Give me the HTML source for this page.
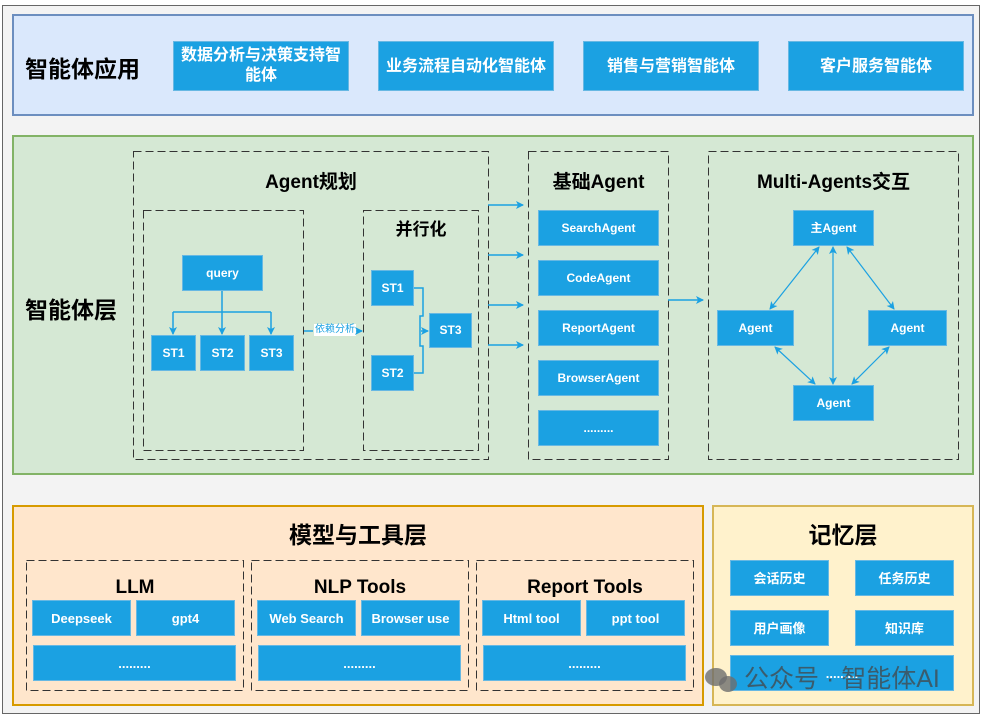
<!DOCTYPE html>
<html><head><meta charset="utf-8"><style>
*{margin:0;padding:0;box-sizing:border-box}
body{width:986px;height:719px;background:#fff;position:relative;overflow:hidden;font-family:"Liberation Sans","Noto Sans CJK SC",sans-serif}
div{position:absolute}
.b{background:#1ba1e2;border:1px solid #67b8e3;color:#fff;font-weight:bold;font-size:13px;display:flex;align-items:center;justify-content:center;text-align:center;line-height:17px}
.s{font-size:12px}
.t{font-weight:bold;color:#000;text-align:center;white-space:nowrap}
</style></head><body>
<div style="left:2px;top:5px;width:978px;height:709px;background:#f3f3f3;border:1px solid #666"></div>

<div style="left:12px;top:14px;width:962px;height:102px;background:#dae8fc;border:2px solid #6c8ebf"></div>
<div class="t" style="left:25px;top:50px;font-size:23px">智能体应用</div>
<div class="b" style="left:173px;top:41px;width:176px;height:50px;font-size:16px;line-height:20px">数据分析与决策支持智<br>能体</div>
<div class="b" style="left:378px;top:41px;width:176px;height:50px;font-size:16px">业务流程自动化智能体</div>
<div class="b" style="left:583px;top:41px;width:176px;height:50px;font-size:16px">销售与营销智能体</div>
<div class="b" style="left:788px;top:41px;width:176px;height:50px;font-size:16px">客户服务智能体</div>

<div style="left:12px;top:135px;width:962px;height:340px;background:#d5e8d4;border:2px solid #82b366"></div>
<div class="t" style="left:25px;top:291px;font-size:23px">智能体层</div>

<div style="left:12px;top:505px;width:692px;height:201px;background:#ffe6cc;border:2px solid #d79b00"></div>
<div style="left:712px;top:505px;width:262px;height:201px;background:#fff2cc;border:2px solid #d6b656"></div>

<svg width="986" height="719" style="position:absolute;left:0;top:0">
<g fill="none" stroke="#333" stroke-width="1" stroke-dasharray="8 4">
<rect x="133.5" y="151.5" width="355" height="308"/>
<rect x="143.5" y="210.5" width="160" height="240"/>
<rect x="363.5" y="210.5" width="115" height="240"/>
<rect x="528.5" y="151.5" width="140" height="308"/>
<rect x="708.5" y="151.5" width="250" height="308"/>
<rect x="26.5" y="560.5" width="217" height="130"/>
<rect x="251.5" y="560.5" width="217" height="130"/>
<rect x="476.5" y="560.5" width="217" height="130"/>
</g>
</svg>

<div class="t" style="left:133px;top:167px;width:356px;font-size:19px">Agent规划</div>
<div class="b s" style="left:182px;top:255px;width:81px;height:36px">query</div>
<div class="b s" style="left:151px;top:335px;width:45px;height:36px">ST1</div>
<div class="b s" style="left:200px;top:335px;width:45px;height:36px">ST2</div>
<div class="b s" style="left:249px;top:335px;width:45px;height:36px">ST3</div>
<div class="t" style="left:363px;top:215px;width:116px;font-size:17px">并行化</div>
<div class="b s" style="left:371px;top:270px;width:43px;height:36px">ST1</div>
<div class="b s" style="left:371px;top:355px;width:43px;height:36px">ST2</div>
<div class="b s" style="left:429px;top:313px;width:43px;height:35px">ST3</div>
<div style="left:314px;top:324px;background:#fff;color:#1ba1e2;font-size:10px;line-height:12px;padding:0 1px">依赖分析</div>

<div class="t" style="left:528px;top:167px;width:141px;font-size:19px">基础Agent</div>
<div class="b s" style="left:538px;top:210px;width:121px;height:36px">SearchAgent</div>
<div class="b s" style="left:538px;top:260px;width:121px;height:36px">CodeAgent</div>
<div class="b s" style="left:538px;top:310px;width:121px;height:36px">ReportAgent</div>
<div class="b s" style="left:538px;top:360px;width:121px;height:36px">BrowserAgent</div>
<div class="b s" style="left:538px;top:410px;width:121px;height:36px">.........</div>

<div class="t" style="left:708px;top:167px;width:251px;font-size:19px">Multi-Agents交互</div>
<div class="b s" style="left:793px;top:210px;width:81px;height:36px">主Agent</div>
<div class="b s" style="left:717px;top:310px;width:77px;height:36px">Agent</div>
<div class="b s" style="left:868px;top:310px;width:79px;height:36px">Agent</div>
<div class="b s" style="left:793px;top:385px;width:81px;height:36px">Agent</div>

<div class="t" style="left:12px;top:516px;width:692px;font-size:23px">模型与工具层</div>
<div class="t" style="left:712px;top:516px;width:262px;font-size:23px">记忆层</div>

<div class="t" style="left:26px;top:577px;width:218px;font-size:19px">LLM</div>
<div class="b" style="left:32px;top:600px;width:99px;height:36px">Deepseek</div>
<div class="b" style="left:136px;top:600px;width:99px;height:36px">gpt4</div>
<div class="b" style="left:33px;top:645px;width:203px;height:36px">.........</div>

<div class="t" style="left:251px;top:577px;width:218px;font-size:19px">NLP Tools</div>
<div class="b" style="left:257px;top:600px;width:99px;height:36px">Web Search</div>
<div class="b" style="left:361px;top:600px;width:99px;height:36px">Browser use</div>
<div class="b" style="left:258px;top:645px;width:203px;height:36px">.........</div>

<div class="t" style="left:476px;top:577px;width:218px;font-size:19px">Report Tools</div>
<div class="b" style="left:482px;top:600px;width:99px;height:36px">Html tool</div>
<div class="b" style="left:586px;top:600px;width:99px;height:36px">ppt tool</div>
<div class="b" style="left:483px;top:645px;width:203px;height:36px">.........</div>

<div class="b" style="left:730px;top:560px;width:99px;height:36px">会话历史</div>
<div class="b" style="left:855px;top:560px;width:99px;height:36px">任务历史</div>
<div class="b" style="left:730px;top:610px;width:99px;height:36px">用户画像</div>
<div class="b" style="left:855px;top:610px;width:99px;height:36px">知识库</div>
<div class="b" style="left:730px;top:655px;width:224px;height:36px">.........</div>

<svg width="986" height="719" style="position:absolute;left:0;top:0">
<defs><marker id="a" markerWidth="8" markerHeight="8" refX="7" refY="4" orient="auto-start-reverse" markerUnits="userSpaceOnUse"><path d="M0,0 L8,4 L0,8 L2,4z" fill="#1ba1e2"/></marker></defs>
<g stroke="#1ba1e2" stroke-width="1.5" fill="none">
<path d="M222,291 V334" marker-end="url(#a)"/>
<path d="M173,312 H271"/>
<path d="M173,312 V334" marker-end="url(#a)"/><path d="M271,312 V334" marker-end="url(#a)"/>
<path d="M304,331 H313"/><path d="M356,331 H362" marker-end="url(#a)"/>
<path d="M414,288 H423 V316 H420 V346 H423 V373 H414"/>
<path d="M421,331 H428" marker-end="url(#a)"/>
<path d="M488,205 H523" marker-end="url(#a)"/>
<path d="M488,255 H523" marker-end="url(#a)"/>
<path d="M488,305 H523" marker-end="url(#a)"/>
<path d="M488,345 H523" marker-end="url(#a)"/>
<path d="M668,300 H703" marker-end="url(#a)"/>
<g stroke-width="1.2">
<path d="M819,247 L770,309" marker-start="url(#a)" marker-end="url(#a)"/>
<path d="M833,247 V384" marker-start="url(#a)" marker-end="url(#a)"/>
<path d="M847,247 L894,309" marker-start="url(#a)" marker-end="url(#a)"/>
<path d="M775,347 L815,384" marker-start="url(#a)" marker-end="url(#a)"/>
<path d="M889,347 L852,384" marker-start="url(#a)" marker-end="url(#a)"/>
</g></g>
<g fill="rgba(110,110,110,.8)"><ellipse cx="716" cy="677" rx="11" ry="9"/><ellipse cx="728" cy="684" rx="9" ry="8"/></g>
</svg>
<div style="left:744px;top:664px;color:rgba(70,70,70,.75);font-size:25px;line-height:30px;white-space:nowrap">公众号 · 智能体AI</div>
</body></html>
